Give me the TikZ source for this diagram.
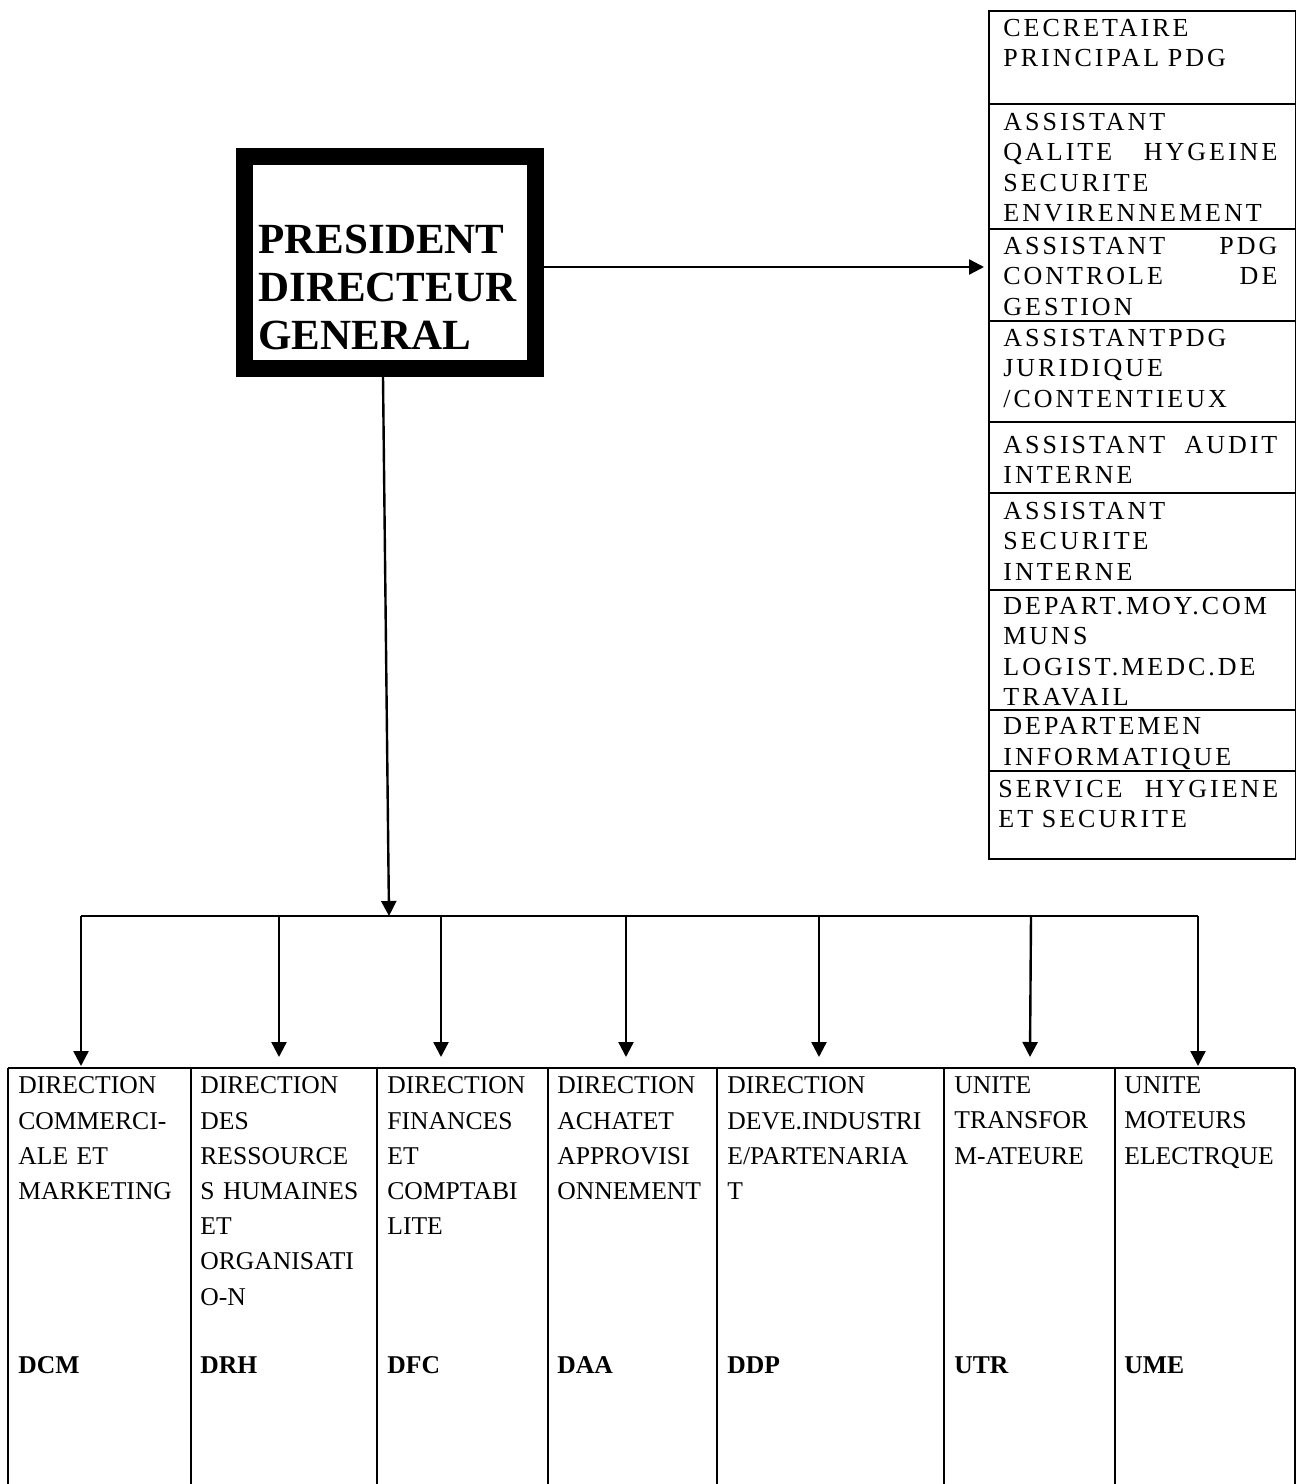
\documentclass[tikz,border=0pt]{standalone}
\usepackage{fontspec}
\setmainfont{Liberation Serif}
\newfontfamily\spacedfont[LetterSpace=11.5]{Liberation Serif}
\usetikzlibrary{arrows.meta}
\newcommand\jl[2]{\makebox[137pt][l]{#1\hfill #2}}
\newcommand\jlw[2]{\makebox[140pt][l]{#1\hfill #2}}
\tikzset{
  arr/.style={line width=1.2pt, -{Triangle[length=7.5pt,width=7.5pt]}},
  frame/.style={line width=1pt},
  stafftxt/.style={anchor=north west, inner sep=0pt, text width=145pt, align=left,
    font=\fontsize{13}{15.25}\spacedfont},
  coltxt/.style={anchor=north west, inner sep=0pt, text width=150pt, align=left,
    font=\fontsize{12.8}{17.6}\selectfont},
  codetxt/.style={anchor=north west, inner sep=0pt, font=\fontsize{12.8}{15}\selectfont\bfseries},
}
\begin{document}
\begin{tikzpicture}[x=0.5pt,y=-0.5pt]
\useasboundingbox (0,0) rectangle (1296,1484);

% President box
\node[draw, line width=8.5pt, minimum width=145.5pt, minimum height=106pt, inner sep=0pt] (pdg) at (390,262.5) {};
\node[anchor=north west, inner sep=0pt, text width=140pt, align=left,
      font=\fontsize{21.5}{24.15}\selectfont\bfseries] (pdgtxt) at (258,224.3)
      {PRESIDENT\\DIRECTEUR\\GENERAL};

% Staff column
\node[draw, line width=1pt, minimum width=153.5pt, minimum height=424pt, inner sep=0pt, anchor=north west] (staff) at (988,10) {};
\foreach \y in {104,229,321,422,493,590,710,771}
  \draw[frame] (staff.west |- 0,\y) -- (staff.east |- 0,\y);

\node[stafftxt] (s1) at (1003,18.4) {CECRETAIRE\\PRINCIPAL PDG};
\node[stafftxt] (s2) at (1003,112.4) {ASSISTANT\\\jl{QALITE}{HYGEINE}\\SECURITE\\ENVIRENNEMENT};
\node[stafftxt] (s3) at (1003,236.4) {\jl{ASSISTANT}{PDG}\\\jl{CONTROLE}{DE}\\GESTION};
\node[stafftxt] (s4) at (1003,328.4) {ASSISTANTPDG\\JURIDIQUE\\/CONTENTIEUX};
\node[stafftxt] (s5) at (1003,435.4) {\jl{ASSISTANT}{AUDIT}\\INTERNE};
\node[stafftxt] (s6) at (1003,501.4) {ASSISTANT\\SECURITE\\INTERNE};
\node[stafftxt] (s7) at (1003,596.4) {DEPART.MOY.COM\\MUNS\\LOGIST.MEDC.DE\\TRAVAIL};
\node[stafftxt] (s8) at (1003,717.4) {DEPARTEMEN\\INFORMATIQUE};
\node[stafftxt] (s9) at (998,779.4) {\jlw{SERVICE}{HYGIENE}\\ET SECURITE};

% Arrow to staff
\draw[arr] (pdg.east |- 0,267) -- ([xshift=-2pt]staff.west |- 0,267);

% Main trunk and bus
\coordinate (bustop) at (389,916);
\coordinate (busL) at (81,916);
\coordinate (busR) at (1198,916);
\draw[arr] ([xshift=-3.5pt]pdg.south) -- (bustop);
\draw[line width=1.3pt] (busL) -- (busR);

\coordinate (b2) at (279,916);
\coordinate (b3) at (441,916);
\coordinate (b4) at (626,916);
\coordinate (b5) at (819,916);
\coordinate (b6) at (1031,916);
\coordinate (t1) at (81,1066);
\coordinate (t2) at (279,1057);
\coordinate (t3) at (441,1057);
\coordinate (t4) at (626,1057);
\coordinate (t5) at (819,1057);
\coordinate (t6) at (1030,1057);
\coordinate (t7) at (1198,1066);
\draw[arr] (busL) -- (t1);
\draw[arr] (b2) -- (t2);
\draw[arr] (b3) -- (t3);
\draw[arr] (b4) -- (t4);
\draw[arr] (b5) -- (t5);
\draw[arr] (b6) -- (t6);
\draw[arr] (busR) -- (t7);

% Table
\draw[frame] (8,1068) -- (1295,1068);
\foreach \x in {8,191,377,548,717,944,1115,1295}
  \draw[frame] (\x,1068) -- (\x,1490);

\node[coltxt] (c1) at (18,1076.5) {DIRECTION\\COMMERCI-\\ALE ET\\MARKETING};
\node[coltxt] (c2) at (200,1076.5) {DIRECTION\\DES\\RESSOURCE\\S HUMAINES\\ET\\ORGANISATI\\O-N};
\node[coltxt] (c3) at (387,1076.5) {DIRECTION\\FINANCES\\ET\\COMPTABI\\LITE};
\node[coltxt] (c4) at (557,1076.5) {DIRECTION\\ACHATET\\APPROVISI\\ONNEMENT};
\node[coltxt] (c5) at (727,1076.5) {DIRECTION\\DEVE.INDUSTRI\\E/PARTENARIA\\T};
\node[coltxt] (c6) at (954,1076.5) {UNITE\\TRANSFOR\\M-ATEURE};
\node[coltxt] (c7) at (1124,1076.5) {UNITE\\MOTEURS\\ELECTRQUE};

\node[codetxt] (k1) at (18,1356.5) {DCM};
\node[codetxt] (k2) at (200,1356.5) {DRH};
\node[codetxt] (k3) at (387,1356.5) {DFC};
\node[codetxt] (k4) at (557,1356.5) {DAA};
\node[codetxt] (k5) at (727,1356.5) {DDP};
\node[codetxt] (k6) at (954,1356.5) {UTR};
\node[codetxt] (k7) at (1124,1356.5) {UME};
\end{tikzpicture}
\end{document}
